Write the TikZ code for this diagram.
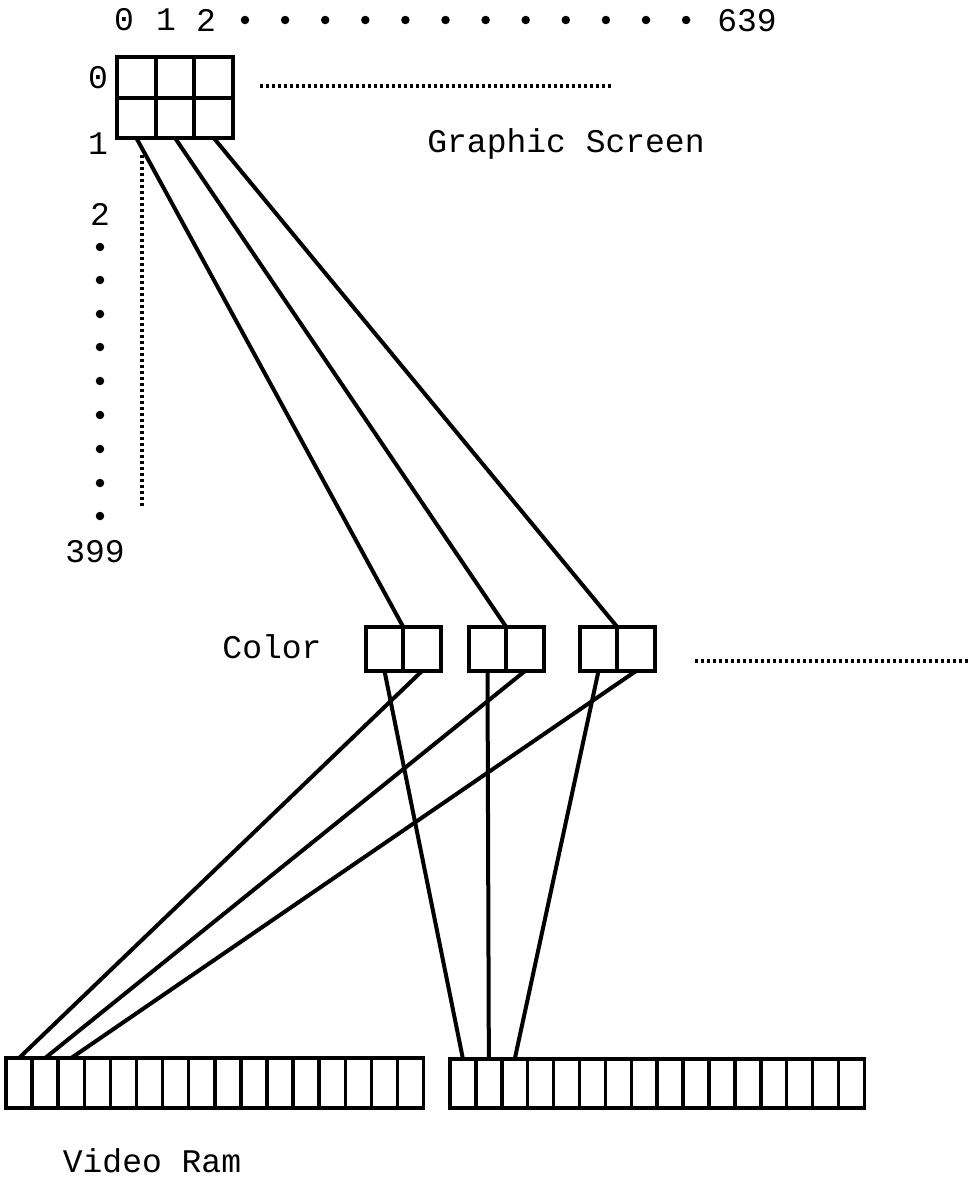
\documentclass[tikz,border=0pt]{standalone}
\usepackage{fontspec}
\setmainfont{Liberation Mono}
\begin{document}
\begin{tikzpicture}[x=1pt,y=-1pt,
  lbl/.style={font=\fontsize{33}{33}\selectfont, inner sep=0pt},
  dotmark/.style={circle, fill=black, inner sep=0pt, minimum size=8.5pt},
  gcell/.style={draw, line width=4pt, inner sep=0pt, outer sep=0pt, minimum width=38.7pt, minimum height=40.5pt},
  ccell/.style={draw, line width=3.8pt, inner sep=0pt, outer sep=0pt, minimum width=37.5pt, minimum height=44pt},
  vcellL/.style={draw, line width=3.5pt, inner sep=0pt, outer sep=0pt, minimum width=26.1pt, minimum height=50pt},
  vcellR/.style={draw, line width=3.5pt, inner sep=0pt, outer sep=0pt, minimum width=25.9pt, minimum height=49pt},
  wire/.style={line width=4pt},
  dots/.style={line width=3.5pt, dash pattern=on 3pt off 3pt}
]
\useasboundingbox (0,0) rectangle (973,1178);

% top axis labels
\node[lbl] (t0) at (124,20) {0};
\node[lbl] (t1) at (166,20) {1};
\node[lbl] (t2) at (206,20) {2};
\foreach \k in {0,...,11} {
  \node[dotmark] (td\k) at ({245+40.1*\k},20) {};
}
\node[lbl] (t639) at (747,21) {639};

% left axis labels
\node[lbl] (l0) at (98,78) {0};
\node[lbl] (l1) at (98,144) {1};
\node[lbl] (l2) at (100,214) {2};
\foreach \y [count=\i] in {247,280,314,347,381,415,449,483,516} {
  \node[dotmark] (ld\i) at (100,\y) {};
}
\node[lbl] (l399) at (95,552) {399};

% graphic screen grid
\foreach \c in {0,1,2} {
  \node[gcell] (g0\c) at ({136.35+38.7*\c},77.25) {};
  \node[gcell] (g1\c) at ({136.35+38.7*\c},117.75) {};
}
\coordinate (hd1) at (260,86);
\coordinate (hd2) at (612,86);
\draw[dots] (hd1) -- (hd2);
\coordinate (vd1) at (142,155);
\coordinate (vd2) at (142,507);
\draw[dots] (vd1) -- (vd2);
\node[lbl] (gs) at (566,144) {Graphic Screen};

% color boxes
\node[lbl] (col) at (272,647) {Color};
\node[ccell] (c1a) at (384.5,649) {};
\node[ccell] (c1b) at (422,649) {};
\node[ccell] (c2a) at (487.5,649) {};
\node[ccell] (c2b) at (525,649) {};
\node[ccell] (c3a) at (598.5,649) {};
\node[ccell] (c3b) at (636,649) {};
\coordinate (rd1) at (695,661);
\coordinate (rd2) at (970,661);
\draw[dots] (rd1) -- (rd2);

% video ram
\foreach \i in {0,...,15} {
  \node[vcellL] (vl\i) at ({6+26.1*\i+13.05},1083) {};
  \node[vcellR] (vr\i) at ({450+25.9*\i+12.95},1083.5) {};
}
\node[lbl] (vram) at (152,1161) {Video Ram};

% screen to color
\draw[wire] (g10.south) -- (c1a.north east);
\draw[wire] (g11.south) -- (c2a.north east);
\draw[wire] (g12.south) -- (c3a.north east);

% color to video ram
\draw[wire] (c1a.south) -- (vr0.north);
\draw[wire] (c2a.south) -- (vr1.north);
\draw[wire] (c3a.south) -- (vr2.north);
\draw[wire] (c1b.south) -- (vl0.north);
\draw[wire] (c2b.south) -- (vl1.north);
\draw[wire] (c3b.south) -- (vl2.north);
\end{tikzpicture}
\end{document}
